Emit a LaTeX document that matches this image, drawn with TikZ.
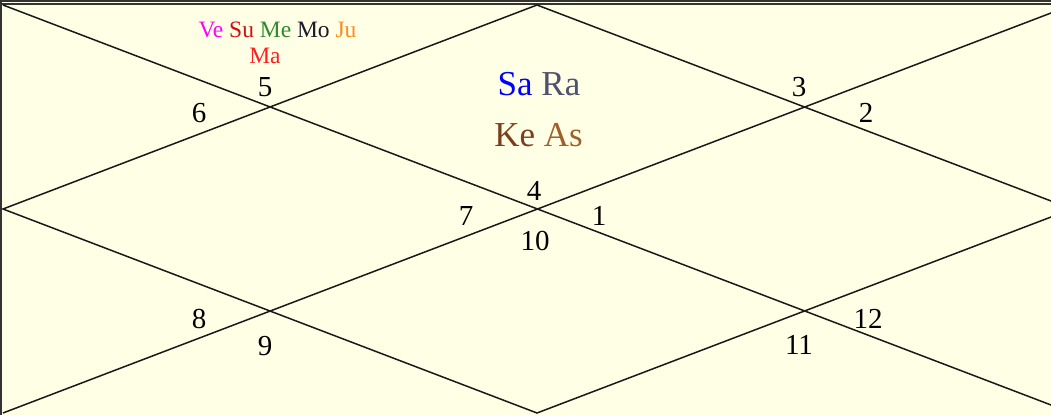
\documentclass[tikz,border=0pt]{standalone}
\usepackage{fontspec}
\setmainfont{Liberation Serif}
\usepackage{xcolor}
\usepackage{tikz}
\usetikzlibrary{calc}
\definecolor{chartbg}{HTML}{FFFFE6}
\definecolor{vecol}{HTML}{FF00FF}
\definecolor{sucol}{HTML}{D01010}
\definecolor{mecol}{HTML}{2E8B2E}
\definecolor{mocol}{HTML}{1A1A2A}
\definecolor{jucol}{HTML}{FF8C1A}
\definecolor{macol}{HTML}{FF2020}
\definecolor{sacol}{HTML}{0000FF}
\definecolor{racol}{HTML}{505070}
\definecolor{kecol}{HTML}{7B3F1F}
\definecolor{ascol}{HTML}{A0602A}

\begin{document}
\begin{tikzpicture}[x=1pt,y=-1pt,
  house/.style={font=\fontsize{29}{29}\selectfont,anchor=base,inner sep=0pt},
  graha/.style={font=\fontsize{23.5}{23.5}\selectfont,anchor=base,inner sep=0pt},
  bigraha/.style={font=\fontsize{35}{35}\selectfont,anchor=base,inner sep=0pt},
  chartline/.style={line width=1.5pt,black!90}]
  % frame
  \useasboundingbox (0,0) rectangle (1051,415);
  \fill[chartbg] (0,0) rectangle (1051,415);
  \clip (0,0) rectangle (1051,415);
  \draw[line width=1.5pt,black!80] (0,0.8) -- (1051,0.8);
  \draw[line width=1.5pt,black!80] (0,3.8) -- (1051,3.8);
  \draw[line width=1.8pt,black!80] (1,0) -- (1,415);
  % chart corners and midpoints
  \coordinate (tl) at (3,5);
  \coordinate (tr) at (1072,5);
  \coordinate (bl) at (3,413);
  \coordinate (br) at (1072,413);
  \coordinate (mt) at (537,5);
  \coordinate (mr) at (1072,209);
  \coordinate (mb) at (537,413);
  \coordinate (ml) at (3,209);
  % diagonals
  \draw[chartline] (tl) -- (br);
  \draw[chartline] (bl) -- (tr);
  % inner diamond
  \draw[chartline,line join=miter] (mt) -- (mr) -- (mb) -- (ml) -- cycle;
  % house numbers
  \node[house] (h1) at (599,225.5) {1};
  \node[house] (h2) at (866,122.5) {2};
  \node[house] (h3) at (799,96.5) {3};
  \node[house] (h4) at (534,200) {4};
  \node[house] (h5) at (265,96.5) {5};
  \node[house] (h6) at (199,122.5) {6};
  \node[house] (h7) at (466,225) {7};
  \node[house] (h8) at (199,328) {8};
  \node[house] (h9) at (265,355) {9};
  \node[house] (h10) at (535,250.5) {10};
  \node[house] (h11) at (799,354) {11};
  \node[house] (h12) at (868,328.5) {12};
  % planets
  \node[graha] (p5a) at (277.5,37) {\textcolor{vecol}{Ve} \textcolor{sucol}{Su} \textcolor{mecol}{Me} \textcolor{mocol}{Mo} \textcolor{jucol}{Ju}};
  \node[graha] (p5b) at (265,63) {\textcolor{macol}{Ma}};
  \node[bigraha] (p4a) at (539,95) {\textcolor{sacol}{Sa} \textcolor{racol}{Ra}};
  \node[bigraha] (p4b) at (538.5,146.5) {\textcolor{kecol}{Ke} \textcolor{ascol}{As}};
\end{tikzpicture}
\end{document}
